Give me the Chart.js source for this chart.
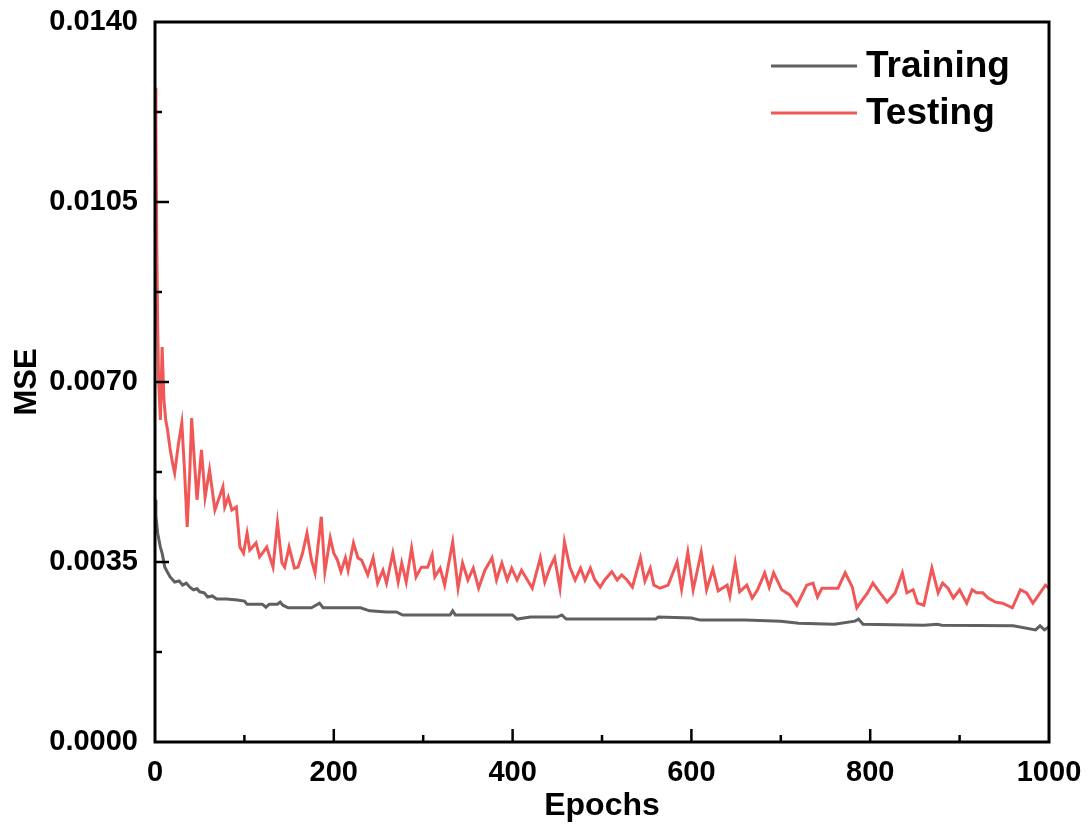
<!DOCTYPE html>
<html lang="en">

<head>
    <meta charset="UTF-8">
    <title>MSE vs Epochs</title>
    <script src="https://cdn.jsdelivr.net/npm/chart.js"></script>
    <style>
        html, body { margin: 0; padding: 0; background: #fff; }
        canvas { display: block; }
    </style>
</head>

<body>
    <canvas id="myChart" width="1089" height="830"></canvas>
    <script>
        // values
        const trainEpochs = [0, 1, 3, 6, 8, 11, 14, 17, 22, 27, 31, 35, 39, 43, 47, 50, 55, 59, 64, 69, 80, 92, 100, 103, 120, 124, 128, 137, 140, 143, 149, 175, 180, 184, 188, 230, 240, 259, 270, 277, 330, 333, 336, 400, 405, 420, 450, 455, 460, 560, 563, 600, 610, 660, 700, 720, 760, 783, 787, 792, 860, 875, 880, 960, 985, 990, 995, 1000];
        const trainMSE = [0.00471, 0.00440, 0.00406, 0.00379, 0.00367, 0.00340, 0.00330, 0.00321, 0.00311, 0.00313, 0.00305, 0.00309, 0.00301, 0.00296, 0.00298, 0.00292, 0.00290, 0.00282, 0.00284, 0.00278, 0.00278, 0.00276, 0.00274, 0.00268, 0.00268, 0.00262, 0.00268, 0.00268, 0.00272, 0.00266, 0.00261, 0.00261, 0.00266, 0.00270, 0.00261, 0.00261, 0.00255, 0.00253, 0.00253, 0.00247, 0.00247, 0.00255, 0.00247, 0.00247, 0.00239, 0.00243, 0.00243, 0.00247, 0.00239, 0.00239, 0.00243, 0.00241, 0.00237, 0.00237, 0.00235, 0.00231, 0.00229, 0.00235, 0.00239, 0.00229, 0.00227, 0.00229, 0.00227, 0.00226, 0.00218, 0.00226, 0.00218, 0.00224];

        const testEpochs = [0, 1, 2, 3, 4, 5, 6, 8, 10, 12, 14, 17, 20, 22, 26, 30, 33, 36, 39, 41, 44, 47, 50, 52, 56, 61, 64, 67, 71, 76, 78, 82, 86, 91, 95, 99, 103, 106, 113, 117, 121, 125, 132, 137, 142, 145, 150, 156, 160, 165, 170, 175, 179, 186, 190, 196, 200, 204, 208, 213, 216, 222, 227, 231, 238, 244, 249, 255, 259, 266, 272, 276, 281, 287, 292, 298, 305, 310, 313, 319, 324, 333, 339, 344, 350, 356, 362, 369, 377, 382, 388, 394, 399, 405, 410, 422, 431, 436, 442, 447, 453, 458, 464, 470, 476, 481, 487, 492, 498, 503, 511, 517, 522, 528, 534, 543, 548, 554, 558, 565, 574, 584, 589, 596, 602, 611, 617, 624, 630, 640, 643, 649, 654, 662, 668, 674, 682, 687, 692, 701, 710, 718, 729, 736, 741, 746, 764, 772, 780, 785, 791, 797, 803, 811, 819, 828, 836, 841, 848, 853, 860, 869, 876, 881, 887, 893, 900, 908, 914, 919, 926, 932, 940, 948, 959, 968, 975, 982, 990, 996, 1000];
        const testMSE = [0.01272, 0.01196, 0.00970, 0.00807, 0.00704, 0.00665, 0.00626, 0.00768, 0.00665, 0.00626, 0.00607, 0.00568, 0.00539, 0.00523, 0.00577, 0.00620, 0.00529, 0.00418, 0.00529, 0.00630, 0.00548, 0.00471, 0.00529, 0.00568, 0.00476, 0.00529, 0.00490, 0.00451, 0.00471, 0.00496, 0.00457, 0.00476, 0.00451, 0.00457, 0.00379, 0.00367, 0.00406, 0.00373, 0.00387, 0.00360, 0.00369, 0.00379, 0.00340, 0.00426, 0.00348, 0.00340, 0.00379, 0.00338, 0.00340, 0.00367, 0.00406, 0.00354, 0.00329, 0.00438, 0.00331, 0.00397, 0.00367, 0.00354, 0.00331, 0.00358, 0.00334, 0.00387, 0.00358, 0.00354, 0.00325, 0.00358, 0.00309, 0.00334, 0.00309, 0.00367, 0.00311, 0.00348, 0.00311, 0.00377, 0.00321, 0.00340, 0.00340, 0.00364, 0.00321, 0.00338, 0.00305, 0.00389, 0.00299, 0.00348, 0.00315, 0.00338, 0.00299, 0.00334, 0.00358, 0.00315, 0.00348, 0.00315, 0.00338, 0.00315, 0.00334, 0.00299, 0.00358, 0.00311, 0.00340, 0.00358, 0.00299, 0.00389, 0.00340, 0.00315, 0.00338, 0.00315, 0.00338, 0.00315, 0.00301, 0.00315, 0.00331, 0.00315, 0.00325, 0.00315, 0.00301, 0.00358, 0.00313, 0.00338, 0.00305, 0.00299, 0.00305, 0.00350, 0.00297, 0.00369, 0.00296, 0.00369, 0.00296, 0.00336, 0.00294, 0.00305, 0.00284, 0.00348, 0.00292, 0.00305, 0.00280, 0.00296, 0.00329, 0.00301, 0.00329, 0.00296, 0.00286, 0.00266, 0.00305, 0.00309, 0.00282, 0.00299, 0.00299, 0.00329, 0.00301, 0.00261, 0.00276, 0.00290, 0.00309, 0.00290, 0.00272, 0.00290, 0.00329, 0.00290, 0.00296, 0.00270, 0.00266, 0.00338, 0.00290, 0.00309, 0.00299, 0.00280, 0.00296, 0.00270, 0.00296, 0.00290, 0.00290, 0.00280, 0.00272, 0.00270, 0.00261, 0.00296, 0.00290, 0.00270, 0.00290, 0.00305, 0.00299];

        const xTicks = [0, 200, 400, 600, 800, 1000];
        const xMinorTicks = [100, 300, 500, 700, 900];
        const yTicks = [0, 0.0035, 0.0070, 0.0105, 0.0140];
        const yMinorTicks = [0.00175, 0.00525, 0.00875, 0.01225];

        const FONT = '"Liberation Sans", Arial, sans-serif';

        function toPoints(xs, ys) {
            return xs.map((x, i) => ({ x: x, y: ys[i] }));
        }

        // box round the plot, inward tick marks and the legend inside the plot
        const framePlugin = {
            id: 'frame',
            afterDatasetsDraw(chart) {
                const { ctx, chartArea: a, scales: { x, y } } = chart;
                ctx.save();
                ctx.strokeStyle = '#000';
                ctx.lineWidth = 3;
                ctx.strokeRect(a.left, a.top, a.right - a.left, a.bottom - a.top);

                function seg(x1, y1, x2, y2) {
                    ctx.beginPath();
                    ctx.moveTo(x1, y1);
                    ctx.lineTo(x2, y2);
                    ctx.stroke();
                }
                ctx.lineWidth = 2.5;
                xTicks.slice(1, -1).forEach(v => {
                    const px = x.getPixelForValue(v);
                    seg(px, a.bottom, px, a.bottom - 13);
                });
                xMinorTicks.forEach(v => {
                    const px = x.getPixelForValue(v);
                    seg(px, a.bottom, px, a.bottom - 7);
                });
                yTicks.slice(1, -1).forEach(v => {
                    const py = y.getPixelForValue(v);
                    seg(a.left, py, a.left + 14, py);
                });
                yMinorTicks.forEach(v => {
                    const py = y.getPixelForValue(v);
                    seg(a.left, py, a.left + 7, py);
                });

                // legend
                ctx.font = 'bold 37px ' + FONT;
                ctx.textBaseline = 'middle';
                ctx.textAlign = 'left';
                chart.data.datasets.forEach((ds, i) => {
                    const ly = a.top + 44 + i * 47;
                    ctx.strokeStyle = ds.borderColor;
                    ctx.lineWidth = 3;
                    seg(a.right - 278, ly, a.right - 192, ly);
                    ctx.fillStyle = '#000';
                    ctx.fillText(ds.label, a.right - 183, ly + 1);
                });
                ctx.restore();
            }
        };

        const ctx = document.getElementById('myChart').getContext('2d');
        new Chart(ctx, {
            type: 'line',
            data: {
                datasets: [{
                    label: 'Training',
                    data: toPoints(trainEpochs, trainMSE),
                    borderColor: 'rgb(96, 96, 96)',
                    borderWidth: 3,
                    pointRadius: 0,
                    tension: 0
                }, {
                    label: 'Testing',
                    data: toPoints(testEpochs, testMSE),
                    borderColor: 'rgb(240, 88, 88)',
                    borderWidth: 3,
                    pointRadius: 0,
                    tension: 0
                }]
            },
            options: {
                responsive: false,
                animation: false,
                devicePixelRatio: 1,
                layout: { padding: { top: 22, right: 40, left: 0, bottom: 0 } },
                plugins: {
                    legend: { display: false },
                    tooltip: { enabled: false }
                },
                scales: {
                    x: {
                        type: 'linear',
                        min: 0,
                        max: 1000,
                        afterBuildTicks: s => { s.ticks = xTicks.map(v => ({ value: v })); },
                        afterFit: s => { s.height = 88; s.paddingLeft = 0; s.paddingRight = 0; },
                        grid: { display: false, drawTicks: false },
                        border: { display: false },
                        ticks: {
                            padding: 14,
                            color: '#000',
                            font: { family: FONT, size: 29, weight: 'bold' },
                            callback: v => String(v)
                        },
                        title: {
                            display: true,
                            text: 'Epochs',
                            color: '#000',
                            padding: { top: 0, bottom: 5 },
                            font: { family: FONT, size: 32, weight: 'bold' }
                        }
                    },
                    y: {
                        min: 0,
                        max: 0.014,
                        afterBuildTicks: s => { s.ticks = yTicks.map(v => ({ value: v })); },
                        afterFit: s => { s.width = 155; s.paddingTop = 0; s.paddingBottom = 0; },
                        grid: { display: false, drawTicks: false },
                        border: { display: false },
                        ticks: {
                            padding: 17,
                            color: '#000',
                            font: { family: FONT, size: 29, weight: 'bold' },
                            callback: v => Number(v).toFixed(4)
                        },
                        title: {
                            display: true,
                            text: 'MSE',
                            color: '#000',
                            padding: { top: 9, bottom: 0 },
                            font: { family: FONT, size: 31, weight: 'bold' }
                        }
                    }
                }
            },
            plugins: [framePlugin]
        });
    </script>
</body>

</html>
